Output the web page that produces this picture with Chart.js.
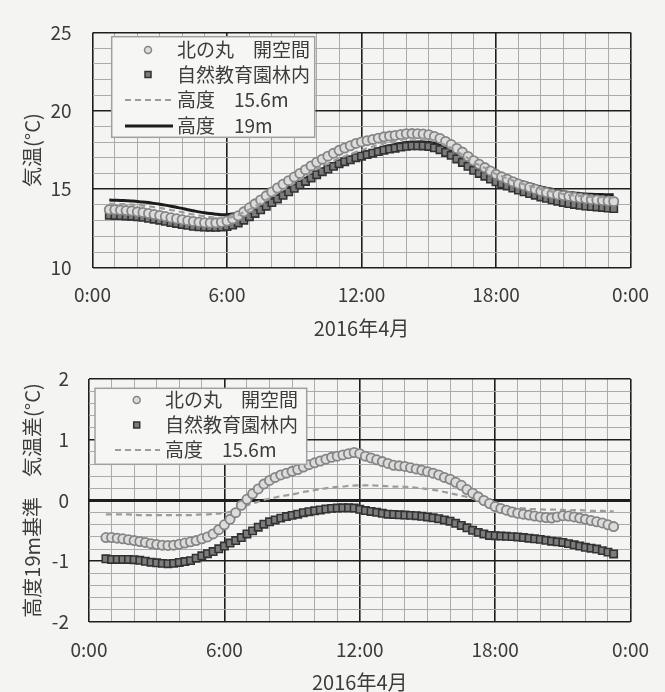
<!DOCTYPE html>
<html>
<head>
<meta charset="utf-8">
<script src="https://cdn.jsdelivr.net/npm/chart.js@4.4.1/dist/chart.umd.min.js"></script>
<style>
  html, body { margin: 0; padding: 0; background: #f4f4f2; }
  #wrap { position: relative; width: 665px; height: 692px; }
  .box { position: absolute; left: 0; width: 665px; height: 346px; }
</style>
</head>
<body>
<div id="wrap">
  <div class="box" style="top:0"><canvas id="topChart"></canvas></div>
  <div class="box" style="top:346px"><canvas id="bottomChart"></canvas></div>
</div>
<script>
// =====================
// DATA (15 min steps)
// =====================
const times = ["0:45","1:00","1:15","1:30","1:45","2:00","2:15","2:30","2:45","3:00",
  "3:15","3:30","3:45","4:00","4:15","4:30","4:45","5:00","5:15","5:30",
  "5:45","6:00","6:15","6:30","6:45","7:00","7:15","7:30","7:45","8:00",
  "8:15","8:30","8:45","9:00","9:15","9:30","9:45","10:00","10:15","10:30",
  "10:45","11:00","11:15","11:30","11:45","12:00","12:15","12:30","12:45","13:00",
  "13:15","13:30","13:45","14:00","14:15","14:30","14:45","15:00","15:15","15:30",
  "15:45","16:00","16:15","16:30","16:45","17:00","17:15","17:30","17:45","18:00",
  "18:15","18:30","18:45","19:00","19:15","19:30","19:45","20:00","20:15","20:30",
  "20:45","21:00","21:15","21:30","21:45","22:00","22:15","22:30","22:45","23:00",
  "23:15"];

// top chart: air temperature (°C)
const kitaTemp = [13.70,13.69,13.67,13.64,13.61,13.56,13.52,13.46,13.39,13.33,
  13.26,13.18,13.12,13.06,13.00,12.95,12.90,12.87,12.85,12.86,
  12.90,12.98,13.11,13.31,13.56,13.82,14.07,14.32,14.58,14.83,
  15.08,15.32,15.55,15.78,16.01,16.25,16.49,16.72,16.92,17.11,
  17.30,17.48,17.63,17.77,17.92,18.02,18.10,18.18,18.26,18.34,
  18.39,18.43,18.49,18.54,18.55,18.54,18.52,18.48,18.37,18.24,
  18.05,17.85,17.60,17.37,17.09,16.82,16.59,16.38,16.17,15.95,
  15.79,15.64,15.48,15.34,15.23,15.11,15.00,14.88,14.79,14.71,
  14.65,14.60,14.55,14.49,14.44,14.39,14.35,14.32,14.29,14.25,
  14.22];
const rinTemp = [13.35,13.33,13.32,13.30,13.28,13.25,13.21,13.15,13.09,13.03,
  12.96,12.88,12.82,12.76,12.70,12.64,12.61,12.59,12.58,12.57,
  12.59,12.63,12.72,12.85,13.03,13.25,13.46,13.69,13.92,14.15,
  14.38,14.61,14.84,15.06,15.28,15.50,15.72,15.93,16.12,16.29,
  16.46,16.63,16.76,16.88,17.01,17.11,17.21,17.30,17.40,17.49,
  17.56,17.62,17.69,17.74,17.77,17.77,17.76,17.73,17.64,17.52,
  17.35,17.16,16.93,16.71,16.46,16.21,16.01,15.83,15.65,15.47,
  15.34,15.21,15.08,14.95,14.84,14.73,14.62,14.51,14.42,14.33,
  14.24,14.16,14.09,14.03,13.98,13.93,13.90,13.87,13.84,13.80,
  13.77];
const h156Temp = [14.08,14.07,14.06,14.04,14.02,13.99,13.95,13.91,13.86,13.81,
  13.75,13.68,13.61,13.54,13.46,13.39,13.33,13.27,13.22,13.19,
  13.17,13.18,13.24,13.36,13.53,13.72,13.91,14.11,14.32,14.53,
  14.75,14.97,15.19,15.40,15.62,15.84,16.06,16.27,16.46,16.63,
  16.81,16.98,17.11,17.24,17.38,17.50,17.62,17.73,17.84,17.94,
  18.02,18.08,18.15,18.21,18.23,18.23,18.22,18.19,18.10,17.98,
  17.81,17.62,17.40,17.20,16.97,16.73,16.54,16.36,16.17,15.97,
  15.83,15.69,15.55,15.43,15.32,15.21,15.11,15.01,14.92,14.85,
  14.77,14.70,14.64,14.60,14.57,14.54,14.51,14.50,14.49,14.48,
  14.47];
const h19Temp = [14.31,14.30,14.29,14.27,14.25,14.22,14.19,14.15,14.10,14.05,
  13.99,13.92,13.85,13.78,13.70,13.63,13.56,13.50,13.45,13.41,
  13.38,13.38,13.42,13.51,13.64,13.80,13.96,14.13,14.31,14.50,
  14.70,14.90,15.10,15.30,15.50,15.70,15.90,16.10,16.27,16.43,
  16.59,16.75,16.88,17.00,17.13,17.25,17.37,17.48,17.59,17.70,
  17.78,17.85,17.92,17.98,18.01,18.02,18.02,18.00,17.92,17.82,
  17.67,17.50,17.30,17.12,16.91,16.70,16.53,16.38,16.22,16.05,
  15.92,15.80,15.67,15.55,15.45,15.35,15.25,15.15,15.07,15.00,
  14.92,14.85,14.80,14.76,14.73,14.70,14.68,14.67,14.66,14.65,
  14.65];

// bottom chart: difference from the 19m value (°C)
const kitaDiff = [-0.61,-0.61,-0.62,-0.63,-0.645,-0.66,-0.675,-0.69,-0.71,-0.725,
  -0.735,-0.74,-0.735,-0.72,-0.70,-0.68,-0.66,-0.63,-0.60,-0.55,
  -0.48,-0.40,-0.31,-0.20,-0.08,0.02,0.11,0.19,0.27,0.33,
  0.38,0.42,0.45,0.48,0.51,0.55,0.59,0.62,0.65,0.68,
  0.71,0.73,0.75,0.77,0.79,0.77,0.73,0.70,0.67,0.64,
  0.61,0.58,0.57,0.56,0.54,0.52,0.50,0.475,0.45,0.42,
  0.38,0.35,0.30,0.25,0.18,0.12,0.06,0.00,-0.05,-0.10,
  -0.13,-0.16,-0.19,-0.21,-0.225,-0.24,-0.255,-0.27,-0.28,-0.29,
  -0.27,-0.25,-0.255,-0.27,-0.29,-0.31,-0.33,-0.35,-0.37,-0.40,
  -0.43];
const rinDiff = [-0.96,-0.97,-0.97,-0.97,-0.97,-0.975,-0.985,-1.00,-1.015,-1.025,
  -1.035,-1.04,-1.035,-1.02,-1.005,-0.99,-0.95,-0.91,-0.875,-0.84,
  -0.795,-0.75,-0.70,-0.66,-0.61,-0.55,-0.50,-0.44,-0.39,-0.35,
  -0.32,-0.29,-0.265,-0.245,-0.225,-0.20,-0.185,-0.17,-0.155,-0.14,
  -0.13,-0.125,-0.12,-0.12,-0.125,-0.145,-0.165,-0.18,-0.195,-0.21,
  -0.225,-0.23,-0.235,-0.24,-0.245,-0.25,-0.26,-0.27,-0.285,-0.30,
  -0.32,-0.34,-0.375,-0.41,-0.45,-0.49,-0.525,-0.55,-0.575,-0.58,
  -0.585,-0.59,-0.595,-0.60,-0.61,-0.62,-0.63,-0.64,-0.655,-0.67,
  -0.68,-0.69,-0.71,-0.73,-0.75,-0.77,-0.785,-0.80,-0.825,-0.85,
  -0.88];
const h156Diff = [-0.23,-0.23,-0.23,-0.23,-0.23,-0.235,-0.24,-0.24,-0.24,-0.24,
  -0.24,-0.24,-0.24,-0.24,-0.24,-0.24,-0.235,-0.23,-0.23,-0.22,
  -0.215,-0.205,-0.185,-0.15,-0.115,-0.08,-0.05,-0.02,0.01,0.03,
  0.05,0.07,0.085,0.10,0.12,0.14,0.155,0.17,0.19,0.20,
  0.215,0.225,0.23,0.24,0.245,0.25,0.25,0.25,0.245,0.24,
  0.235,0.23,0.23,0.225,0.22,0.21,0.20,0.19,0.175,0.16,
  0.14,0.12,0.10,0.08,0.06,0.03,0.01,-0.02,-0.05,-0.08,
  -0.095,-0.11,-0.12,-0.125,-0.13,-0.14,-0.14,-0.145,-0.15,-0.15,
  -0.15,-0.155,-0.16,-0.16,-0.16,-0.165,-0.17,-0.17,-0.17,-0.175,
  -0.18];

// axis labels
const xMajorHours = [0, 6, 12, 18, 24];
const xMajorLabels = ["0:00", "6:00", "12:00", "18:00", "0:00"];
const topYMajor = [10, 15, 20, 25];
const bottomYMajor = [-2, -1, 0, 1, 2];

const labelKita = "北の丸　開空間";
const labelRin = "自然教育園林内";
const label156 = "高度　15.6m";
const label19 = "高度　19m";

// =====================
// HELPERS
// =====================
const FONT = '"Noto Sans CJK JP", "Noto Sans", sans-serif';
const TEXT = "#3c3c3c";

const hours = times.map(t => {
  const [h, m] = t.split(":");
  return Number(h) + Number(m) / 60;
});

function pts(values) {
  return values.map((v, i) => ({ x: hours[i], y: v }));
}

function isMajor(list, v) {
  return list.some(m => Math.abs(m - v) < 1e-6);
}

function circleSet(label, values) {
  return {
    label: label, data: pts(values), showLine: false,
    pointStyle: "circle", pointRadius: 4.6, borderWidth: 1.8,
    borderColor: "#858585", backgroundColor: "#dcdcdc",
    legendMark: "circle", order: 2
  };
}

function squareSet(label, values) {
  return {
    label: label, data: pts(values), showLine: false,
    pointStyle: "rect", pointRadius: 5.2, borderWidth: 1.6,
    borderColor: "#323232", backgroundColor: "#7c7c7c",
    legendMark: "rect", order: 3
  };
}

function dashSet(label, values, order) {
  return {
    label: label, data: pts(values), showLine: true, pointRadius: 0,
    borderColor: "#9c9c9c", borderWidth: 2.2, borderDash: [6, 4],
    tension: 0.3, legendMark: "dash", order: order
  };
}

function xScale(tickPad, titlePad, xh) {
  return {
    type: "linear", min: 0, max: 24,
    afterFit: s => { s.height = xh; },
    border: { display: false },
    grid: {
      drawTicks: false,
      color: c => isMajor(xMajorHours, c.tick.value) ? "#1e1e1e" : "#ababab",
      lineWidth: c => isMajor(xMajorHours, c.tick.value) ? 1.6 : 1
    },
    ticks: {
      stepSize: 1, autoSkip: false, maxRotation: 0, maxTicksLimit: 100,
      padding: tickPad, color: TEXT, font: { family: FONT, size: 19 },
      callback: v => {
        const i = xMajorHours.indexOf(v);
        return i >= 0 ? xMajorLabels[i] : "";
      }
    },
    title: {
      display: true, text: "2016年4月", color: TEXT,
      font: { family: FONT, size: 20, lineHeight: 1 },
      padding: { top: 0, bottom: titlePad }
    }
  };
}

function yScale(min, max, step, major, title, tickPad, yw, zeroBold) {
  return {
    min: min, max: max,
    afterFit: s => { s.width = yw; },
    border: { display: false },
    grid: {
      drawTicks: false,
      color: c => isMajor(major, c.tick.value) ? "#1e1e1e" : "#ababab",
      lineWidth: c => {
        if (zeroBold && Math.abs(c.tick.value) < 1e-6) return 3;
        return isMajor(major, c.tick.value) ? 1.6 : 1;
      }
    },
    ticks: {
      stepSize: step, autoSkip: false, maxTicksLimit: 100,
      padding: tickPad, color: TEXT, font: { family: FONT, size: 19 },
      callback: v => isMajor(major, v) ? String(Math.round(v)) : ""
    },
    title: {
      display: true, text: title, color: TEXT,
      font: { family: FONT, size: 20, lineHeight: 1.2 },
      padding: { top: 20, bottom: 0 }
    }
  };
}

// =====================
// LEGEND BOX (inside plot)
// =====================
const legendBox = {
  id: "legendBox",
  afterDatasetsDraw(chart, args, o) {
    const ctx = chart.ctx;
    ctx.save();
    ctx.fillStyle = "#f6f6f5";
    ctx.strokeStyle = "#a0a0a0";
    ctx.lineWidth = 1.5;
    ctx.fillRect(o.x, o.y, o.w, o.h);
    ctx.strokeRect(o.x, o.y, o.w, o.h);

    chart.data.datasets.forEach((ds, i) => {
      const cy = o.rows[i];
      ctx.fillStyle = ds.backgroundColor || ds.borderColor;
      ctx.strokeStyle = ds.borderColor;
      if (ds.legendMark === "circle") {
        ctx.lineWidth = 1.5;
        ctx.beginPath();
        ctx.arc(o.markX, cy, 3.5, 0, Math.PI * 2);
        ctx.fill();
        ctx.stroke();
      } else if (ds.legendMark === "rect") {
        ctx.lineWidth = 1.5;
        ctx.fillRect(o.markX - 3, cy - 3, 6, 6);
        ctx.strokeRect(o.markX - 3, cy - 3, 6, 6);
      } else {
        ctx.lineWidth = ds.borderWidth;
        ctx.setLineDash(ds.borderDash || []);
        ctx.beginPath();
        ctx.moveTo(o.lineX1, cy);
        ctx.lineTo(o.lineX2, cy);
        ctx.stroke();
        ctx.setLineDash([]);
      }
      ctx.fillStyle = TEXT;
      ctx.font = "19px " + FONT;
      ctx.textBaseline = "middle";
      ctx.textAlign = "left";
      ctx.fillText(ds.label, o.textX, cy);
    });
    ctx.restore();
  }
};

// =====================
// TOP CHART
// =====================
new Chart(document.getElementById("topChart"), {
  type: "scatter",
  data: {
    datasets: [
      circleSet(labelKita, kitaTemp),
      squareSet(labelRin, rinTemp),
      dashSet(label156, h156Temp, 1),
      {
        label: label19, data: pts(h19Temp), showLine: true, pointRadius: 0,
        borderColor: "#1c1c1c", borderWidth: 3, tension: 0.3,
        legendMark: "line", order: 4
      }
    ]
  },
  options: {
    responsive: true, maintainAspectRatio: false, animation: false,
    layout: { padding: { left: 0, right: 26.5, top: 29.3, bottom: 0 } },
    scales: {
      x: xScale(16, 8, 78.3),
      y: yScale(10, 25, 1, topYMajor, "気温(°C)", 21, 92.5, false)
    },
    plugins: {
      legend: { display: false },
      tooltip: { enabled: false },
      legendBox: {
        x: 111.7, y: 36.7, w: 203, h: 100.6,
        rows: [50, 74.5, 100, 126], markX: 148,
        lineX1: 125, lineX2: 173, textX: 177
      }
    }
  },
  plugins: [legendBox]
});

// =====================
// BOTTOM CHART
// =====================
new Chart(document.getElementById("bottomChart"), {
  type: "scatter",
  data: {
    datasets: [
      circleSet(labelKita, kitaDiff),
      squareSet(labelRin, rinDiff),
      dashSet(label156, h156Diff, 4)
    ]
  },
  options: {
    responsive: true, maintainAspectRatio: false, animation: false,
    layout: { padding: { left: 0, right: 26.5, top: 33, bottom: 0 } },
    scales: {
      x: xScale(16, 0, 70),
      y: yScale(-2, 2, 0.2, bottomYMajor, "高度19m基準　気温差(°C)", 20, 89, true)
    },
    plugins: {
      legend: { display: false },
      tooltip: { enabled: false },
      legendBox: {
        x: 95, y: 42.3, w: 211.7, h: 76,
        rows: [54, 79, 104], markX: 136.7,
        lineX1: 115, lineX2: 160, textX: 165
      }
    }
  },
  plugins: [legendBox]
});
</script>
</body>
</html>
